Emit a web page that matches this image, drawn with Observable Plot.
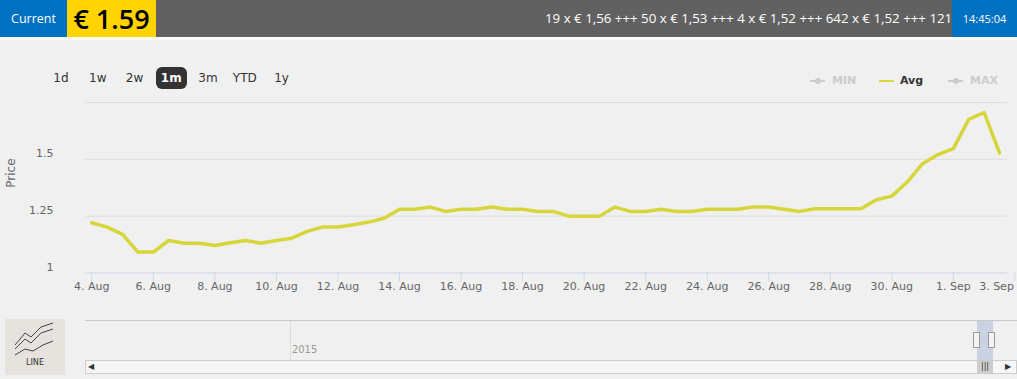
<!DOCTYPE html>
<html>
<head>
<meta charset="utf-8">
<script src="https://cdn.jsdelivr.net/npm/d3@7"></script>
<script src="https://cdn.jsdelivr.net/npm/@observablehq/plot@0.6"></script>
<style>
html,body{margin:0;padding:0;}
body{width:1017px;height:379px;background:#f0f0f0;position:relative;overflow:hidden;font-family:"DejaVu Sans",Verdana,sans-serif;}
.abs{position:absolute;}
#topbar{left:0;top:0;width:1017px;height:37px;background:#616161;}
#strip{left:0;top:37px;width:1017px;height:3px;background:#fafafa;}
#cur{left:0;top:0;width:67px;height:37px;background:#0070c0;color:#fff;font:12.5px "Open Sans";line-height:37px;text-align:center;}
#price{left:67px;top:0;width:89px;height:37px;background:#ffd400;color:#000;font:600 27px "Open Sans";line-height:37px;text-align:center;}
#ticker{left:545px;top:0;width:407px;height:37px;white-space:nowrap;color:#fff;font:13.3px "Open Sans";line-height:37px;}
#time{left:952px;top:0;width:65px;height:37px;background:#0070c0;color:#fff;font:11px "Open Sans";line-height:37px;text-align:center;}
#chart{left:0;top:40px;}
#ranges{left:45.5px;top:67px;display:flex;gap:5.75px;}
.rb{width:31px;height:22px;line-height:22px;text-align:center;font-size:12px;color:#333;border-radius:6px;}
.rb.sel{background:#333;color:#fff;font-weight:bold;}
#legend{left:810px;top:73px;height:16px;}
.li{position:absolute;top:0;height:16px;line-height:16px;font-size:11px;font-weight:bold;color:#ccc;}
.mk{position:absolute;top:7px;height:2px;width:15px;background:#ccc;}
.mk i{position:absolute;left:5px;top:-2px;width:6px;height:6px;border-radius:3px;background:#ccc;}
#navtop{left:85px;top:320px;width:932px;height:1px;background:#c8c8c8;}
#navdiv{left:290px;top:321px;width:1px;height:39px;background:#dcdcdc;}
#year{left:292px;top:343px;font:11px "DejaVu Sans Condensed","DejaVu Sans";color:#999;}
#mask{left:977px;top:321px;width:16px;height:39px;background:#c9d1e2;}
.hd{position:absolute;top:332px;width:5px;height:14px;background:#f4f4f4;border:1px solid #999;}
#scroll{left:85px;top:360px;width:930px;height:12px;border:1px solid #ccc;background:#f6f6f6;}
#thumb{left:977px;top:361px;width:16px;height:12px;background:#cdcdcd;font:8px "DejaVu Sans";color:#333;text-align:center;line-height:12px;}
#larr{left:88px;top:360px;font:8px "DejaVu Sans";color:#333;line-height:14px;}
#rarr{left:1005px;top:360px;font:8px "DejaVu Sans";color:#333;line-height:14px;}
#linebtn{left:5px;top:319px;width:60px;height:56px;background:#e6e3df;}
#linetxt{left:5px;top:357px;width:60px;text-align:center;font:9px "DejaVu Sans Condensed","DejaVu Sans";color:#333;}
</style>
</head>
<body>
<div id="topbar" class="abs"></div>
<div id="strip" class="abs"></div>
<div id="cur" class="abs"></div>
<div id="price" class="abs"></div>
<div id="ticker" class="abs"></div>
<div id="time" class="abs"></div>
<div id="chart" class="abs"></div>
<div id="ranges" class="abs"></div>
<div id="legend" class="abs"></div>
<div id="navtop" class="abs"></div>
<div id="navdiv" class="abs"></div>
<div id="year" class="abs"></div>
<div id="mask" class="abs"></div>
<div class="hd" style="left:973px"></div>
<div class="hd" style="left:988px"></div>
<div id="scroll" class="abs"></div>
<div id="thumb" class="abs">|||</div>
<div id="larr" class="abs">◀</div>
<div id="rarr" class="abs">▶</div>
<div id="linebtn" class="abs">
  <svg width="60" height="40" style="position:absolute;left:0;top:0">
    <path d="M10 26 L20 14 L26 18 L36 8 L48 4" fill="none" stroke="#444" stroke-width="1"/>
    <path d="M10 30 L20 20 L26 24 L36 14 L48 10" fill="none" stroke="#444" stroke-width="1"/>
    <path d="M10 36 L20 30 L28 32 L38 26 L48 22" fill="none" stroke="#444" stroke-width="1"/>
  </svg>
</div>
<div id="linetxt" class="abs"></div>
<script>
// ---- data ----
const currentLabel = "Current";
const currentPrice = "€ 1.59";
const tickerText = "19 x € 1,56 +++ 50 x € 1,53 +++ 4 x € 1,52 +++ 642 x € 1,52 +++ 121";
const timeLabel = "14:45:04";
const rangeLabels = ["1d", "1w", "2w", "1m", "3m", "YTD", "1y"];
const selectedRange = "1m";
const legendLabels = ["MIN", "Avg", "MAX"];
const activeSeries = "Avg";
const yearLabel = "2015";
const chartTypeLabel = "LINE";
const yAxisTitle = "Price";

const startDate = "2015-08-04T00:00:00Z";
const stepHours = 12;
const avgPrice = [
  1.221, 1.202, 1.170, 1.092, 1.092, 1.143, 1.131, 1.131, 1.121, 1.133,
  1.143, 1.131, 1.143, 1.153, 1.183, 1.202, 1.202, 1.212, 1.224, 1.241,
  1.280, 1.280, 1.290, 1.271, 1.280, 1.280, 1.290, 1.280, 1.280, 1.271,
  1.271, 1.250, 1.250, 1.250, 1.290, 1.271, 1.271, 1.280, 1.271, 1.271,
  1.280, 1.280, 1.280, 1.290, 1.290, 1.280, 1.271, 1.283, 1.283, 1.283,
  1.283, 1.322, 1.338, 1.400, 1.481, 1.521, 1.547, 1.676, 1.706, 1.528
];
const xTickDates = ["2015-08-04","2015-08-06","2015-08-08","2015-08-10","2015-08-12","2015-08-14",
  "2015-08-16","2015-08-18","2015-08-20","2015-08-22","2015-08-24","2015-08-26","2015-08-28",
  "2015-08-30","2015-09-01"];
const xLastTickDate = "2015-09-03";
const yTickValues = [1, 1.25, 1.5];
const yGridValues = [1.25, 1.5, 1.75];

// ---- html text ----
document.getElementById("cur").textContent = currentLabel;
document.getElementById("price").textContent = currentPrice;
document.getElementById("ticker").textContent = tickerText;
document.getElementById("time").textContent = timeLabel;
document.getElementById("year").textContent = yearLabel;
document.getElementById("linetxt").textContent = chartTypeLabel;
const rangesEl = document.getElementById("ranges");
rangeLabels.forEach(l => {
  const d = document.createElement("div");
  d.className = "rb" + (l === selectedRange ? " sel" : "");
  d.textContent = l;
  rangesEl.appendChild(d);
});
const legendEl = document.getElementById("legend");
const legendOffsets = [0, 69, 138];
legendLabels.forEach((l, i) => {
  const item = document.createElement("div");
  item.className = "li";
  item.style.left = legendOffsets[i] + "px";
  const active = l === activeSeries;
  const mk = document.createElement("div");
  mk.className = "mk";
  if (active) mk.style.background = "#d8d83a";
  else mk.appendChild(document.createElement("i"));
  mk.style.left = "0px";
  item.appendChild(mk);
  const t = document.createElement("span");
  t.textContent = l;
  t.style.marginLeft = (active ? 21 : 22) + "px";
  if (active) t.style.color = "#333";
  item.appendChild(t);
  legendEl.appendChild(item);
});

// ---- chart ----
const t0 = Date.parse(startDate);
const rows = avgPrice.map((v, i) => ({date: new Date(t0 + i * stepHours * 3600e3), price: v}));
const xTicks = xTickDates.map(d => new Date(d + "T00:00:00Z"));
const xLast = [new Date(xLastTickDate + "T00:00:00Z")];
const fmt = d3.utcFormat("%-d. %b");

const chart = Plot.plot({
  width: 1017,
  height: 270,
  marginLeft: 85,
  marginRight: 10,
  marginTop: 62,
  marginBottom: 37.5,
  style: {background: "transparent", fontFamily: "DejaVu Sans", fontSize: "11px", overflow: "visible"},
  x: {type: "utc", domain: [new Date(t0 - 4.9 * 3600e3), new Date(t0 + 29.76 * 86400e3)]},
  y: {domain: [1, 1.75]},
  marks: [
    Plot.gridY(yGridValues, {stroke: "#dcdcdc", strokeOpacity: 1}),
    Plot.ruleY([1], {stroke: "#ccd6eb"}),
    Plot.axisX(xTicks.concat(xLast), {tickSize: 9, tickFormat: () => "", color: "#ccd6eb", label: null}),
    Plot.axisX(xTicks, {tickSize: 0, tickPadding: 9.5, tickFormat: fmt, color: "#666", label: null}),
    Plot.axisX(xLast, {tickSize: 0, tickPadding: 9.5, tickFormat: fmt, color: "#666", textAnchor: "end", dx: -1, label: null}),
    Plot.axisY(yTickValues, {tickSize: 0, tickPadding: 32, dy: -6, color: "#666", label: null, tickFormat: d => String(d)}),
    Plot.line(rows, {x: "date", y: "price", stroke: "#d6d63a", strokeWidth: 3.5}),
    Plot.text([yAxisTitle], {text: d => d, frameAnchor: "left", dx: -74, rotate: -90, fontSize: 12, fill: "#666"})
  ]
});
document.getElementById("chart").appendChild(chart);
</script>
</body>
</html>
